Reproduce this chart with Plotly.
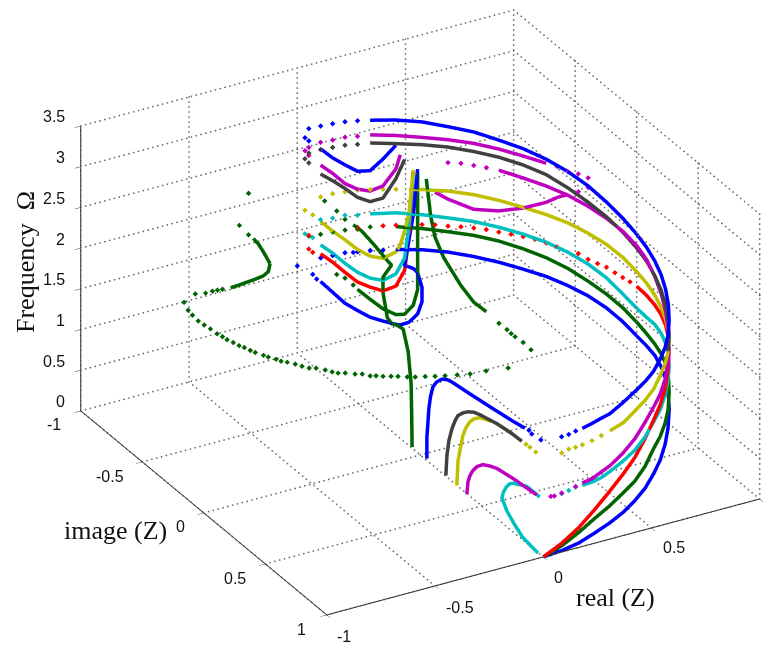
import plotly.graph_objects as go

# ---------- axes ----------
real_ticks = [-1, -0.5, 0, 0.5, 1]
image_ticks = [-1, -0.5, 0, 0.5, 1]
freq_ticks = [0, 0.5, 1, 1.5, 2, 2.5, 3, 3.5]
real_labels = ["-1", "-0.5", "0", "0.5"]
image_labels = ["-1", "-0.5", "0", "0.5", "1"]
freq_labels = ["0", "0.5", "1", "1.5", "2", "2.5", "3", "3.5"]

# ---------- points on the unit circle of Z, indexed by a phase in degrees ----------
CIRCLE = {
    0: (0.0, 1.0), 2: (.0349, .9994), 3: (.0523, .9986), 5: (.0872, .9962), 7: (.1219, .9925), 9: (.1564, .9877),
    10: (.1736, .9848), 11: (.1908, .9816), 14: (.2419, .9703), 15: (.2588, .9659), 17: (.2924, .9563), 20: (.3420, .9397),
    25: (.4226, .9063), 30: (.5, .8660), 35: (.5736, .8192), 40: (.6428, .7660), 45: (.7071, .7071), 50: (.7660, .6428), 55: (.8192, .5736),
    60: (.8660, .5), 65: (.9063, .4226), 70: (.9397, .3420), 75: (.9659, .2588), 80: (.9848, .1736),
    85: (.9962, .0872), 90: (1.0, 0.0), 93: (.9986, -.0523), 96: (.9945, -.1045), 99: (.9877, -.1564),
    102: (.9781, -.2079), 105: (.9659, -.2588), 108: (.9511, -.3090), 111: (.9336, -.3584), 114: (.9135, -.4067),
    117: (.8910, -.4540), 120: (.8660, -.5), 123: (.8387, -.5446), 124: (.8290, -.5592), 126: (.8090, -.5878),
    128: (.7880, -.6157), 129: (.7771, -.6293), 130: (.7660, -.6428), 132: (.7431, -.6691), 135: (.7071, -.7071),
    138: (.6691, -.7431), 141: (.6293, -.7771), 144: (.5878, -.8090), 145: (.5736, -.8192), 147: (.5446, -.8387),
    148: (.5299, -.8480), 149: (.5150, -.8572), 150: (.5, -.8660), 151: (.4848, -.8746), 152: (.4695, -.8829),
    153: (.4540, -.8910), 154: (.4384, -.8988), 155: (.4226, -.9063), 156: (.4067, -.9135), 157: (.3907, -.9205),
    158: (.3746, -.9272), 159: (.3584, -.9336), 161: (.3256, -.9455), 162: (.3090, -.9511), 164: (.2756, -.9613),
    165: (.2588, -.9659), 166: (.2419, -.9703), 168: (.2079, -.9781), 170: (.1736, -.9848), 171: (.1564, -.9877),
    173: (.1219, -.9925), 174: (.1045, -.9945), 175: (.0872, -.9962), 176: (.0698, -.9976), 177: (.0523, -.9986),
    178: (.0349, -.9994), 180: (0.0, -1.0),
}

BLUE = "#0000ff"; GREEN = "#006400"; RED = "#ff0000"; CYAN = "#00bfbf"
MAGENTA = "#bf00bf"; YELLOW = "#bfbf00"; BLACK = "#404040"

ARC = [0, 5, 10, 15, 20, 25, 30, 35, 40, 45, 50, 55, 60, 65, 70, 75, 80, 85, 90, 96, 102, 108, 114, 120, 126, 132, 138, 144, 150, 156]
UP = [65, 70, 75, 80, 85, 90, 96, 102, 108, 114, 120, 126, 132, 138, 144, 150, 156, 162]

# ---------- dense curves: (phase, frequency) ----------
blue1_deg = ARC
blue1_f = [0, .01, .03, .07, .10, .13, .17, .21, .27, .32, .39, .47, .57, .64, .69, .72, .74, .74, .75, .80, .85, .89, .92, .95, .97, 1.00, 1.03, 1.06, 1.08, 1.09]
blue1_dot_deg = [159, 162, 165, 166, 168, 171, 174]
blue1_dot_f = [1.09, 1.10, 1.10, 1.10, 1.11, 1.10, 1.10]

blue2_deg = [11, 14, 17, 20, 25, 30, 35, 40, 45, 50, 55, 60] + UP
blue2_f = [1.42, 1.43, 1.44, 1.44, 1.48, 1.51, 1.52, 1.53, 1.56, 1.58, 1.61, 1.66, 1.73, 1.79, 1.85, 1.90, 1.95, 2.00, 2.07, 2.15, 2.24, 2.32, 2.39, 2.45, 2.50, 2.56, 2.60, 2.65, 2.68, 2.70]
blue2_dot_deg = [5, 7, 9, 165, 168, 171, 174, 177]
blue2_dot_f = [1.41, 1.41, 1.42, 2.71, 2.72, 2.72, 2.72, 2.72]

green1_deg = ARC
green1_f = [0, .07, .16, .25, .31, .37, .41, .48, .58, .61, .65, .69, .78, .85, .88, .88, .88, .89, .92, .97, 1.02, 1.07, 1.13, 1.18, 1.22, 1.26, 1.29, 1.31, 1.34, 1.37]
green1_dot_deg = [162, 165, 168, 171, 174, 177]
green1_dot_f = [1.39, 1.38, 1.39, 1.39, 1.39, 1.40]

red_deg = ARC[:19]
red_f = [0, .10, .22, .36, .49, .60, .70, .82, .93, 1.0, 1.07, 1.18, 1.28, 1.33, 1.35, 1.36, 1.36, 1.36, 1.36]
red_dot_deg = [93, 96, 99, 102, 105, 108, 111, 117, 120, 123, 126, 129, 132, 135, 138, 141, 144, 147, 150, 156, 159, 165]
red_dot_f = [1.35, 1.34, 1.34, 1.35, 1.34, 1.34, 1.36, 1.35, 1.36, 1.37, 1.37, 1.37, 1.37, 1.38, 1.38, 1.38, 1.38, 1.39, 1.39, 1.39, 1.39, 1.40]

cyan_deg = [11, 14, 17, 20, 25, 30, 35, 40, 45, 50, 55, 60] + UP
cyan_f = [.72, .71, .71, .73, .76, .79, .84, .91, .94, 1.0, 1.06, 1.11, 1.12, 1.13, 1.13, 1.12, 1.09, 1.09, 1.14, 1.22, 1.28, 1.33, 1.37, 1.40, 1.43, 1.46, 1.48, 1.51, 1.54, 1.55]
cyan_dot_deg = [5, 7, 9, 165, 168, 171, 174]
cyan_dot_f = [.71, .72, .73, 1.55, 1.57, 1.56, 1.57]

yellow_deg = [20, 25, 30, 35, 40, 45, 50, 55, 60, 65, 70, 75, 80, 85, 90, 96, 102, 108, 114, 120, 126, 132, 138, 144, 147, 150, 153]
yellow_f = [1.23, 1.23, 1.27, 1.29, 1.31, 1.36, 1.38, 1.40, 1.40, 1.40, 1.42, 1.45, 1.48, 1.51, 1.54, 1.59, 1.63, 1.66, 1.69, 1.71, 1.73, 1.76, 1.79, 1.81, 1.81, 1.82, 1.82]
yellow_dot_deg = [5, 7, 9, 11, 14, 17, 156, 159, 162, 165, 168, 171, 174]
yellow_dot_f = [1.21, 1.23, 1.22, 1.22, 1.22, 1.23, 1.83, 1.84, 1.85, 1.86, 1.86, 1.86, 1.85]

black_deg = [55, 60] + UP
black_f = [1.41, 1.46, 1.52, 1.59, 1.66, 1.72, 1.78, 1.83, 1.90, 1.97, 2.04, 2.12, 2.20, 2.25, 2.29, 2.32, 2.35, 2.37, 2.39, 2.42]
black_dot_deg = [165, 168, 171, 174, 177]
black_dot_f = [2.42, 2.43, 2.43, 2.43, 2.42]

mag2_deg = [11, 14, 17, 20, 25, 30, 35, 40, 45, 50, 55, 60, 65, 70, 75, 80, 85, 90, 96, 102, 108, 114, 120, 126, 132]
mag2_f = [.75, .75, .78, .80, .86, .93, 1.02, 1.09, 1.13, 1.19, 1.25, 1.32, 1.42, 1.52, 1.62, 1.71, 1.80, 1.86, 1.91, 1.95, 1.99, 2.03, 2.06, 2.09, 2.13]
mag2_dot_deg = [2, 3, 5, 7, 9, 135, 138, 141, 144]
mag2_dot_f = [.72, .71, .72, .72, .74, 2.14, 2.15, 2.16, 2.16]

mag3_deg = [114, 117, 120, 126, 132, 138, 144, 147]
mag3_f = [2.04, 1.96, 1.86, 1.72, 1.63, 1.61, 1.71, 1.79]
mag3_dot_deg = [108, 111]
mag3_dot_f = [2.22, 2.12]

mag4_deg = [120, 126, 132, 138, 144, 150, 156, 162]
mag4_f = [2.34, 2.36, 2.39, 2.42, 2.44, 2.46, 2.49, 2.52]
mag4_dot_deg = [108, 111, 114, 117, 165, 168, 171, 174, 177]
mag4_dot_f = [2.34, 2.34, 2.32, 2.34, 2.52, 2.53, 2.52, 2.52, 2.49]

# U-shaped branches near the left end of the arcs
magU_deg = [155, 156, 159, 162, 165, 168, 171, 174]
magU_f = [2.25, 2.08, 1.88, 1.83, 1.87, 1.96, 2.11, 2.24]
magU_dot_deg = [177, 178]
magU_dot_f = [2.39, 2.46]
blueU_deg = [156, 159, 162, 165, 168, 171, 174]
blueU_f = [2.37, 2.21, 2.08, 2.09, 2.19, 2.30, 2.44]
blueU_dot_deg = [177, 178]
blueU_dot_f = [2.57, 2.62]
blackU_deg = [154, 156, 159, 162, 165, 168, 171, 174]
blackU_f = [2.19, 1.96, 1.73, 1.70, 1.77, 1.90, 2.02, 2.13]
blackU_dot_deg = [177, 178]
blackU_dot_f = [2.30, 2.36]
yellowU_deg = [152, 153, 154, 155, 156, 159, 162, 165, 168, 171, 174]
yellowU_f = [2.06, 1.52, 1.32, 1.14, 1.06, .99, 1.03, 1.13, 1.27, 1.40, 1.55]
yellowU_dot_deg = [176, 178]
yellowU_dot_f = [1.65, 1.73]
cyanU_deg = [152, 153, 154, 156, 159, 162, 165, 168, 171, 174]
cyanU_f = [2.01, 1.36, .98, .79, .72, .76, .85, .98, 1.13, 1.26]
cyanU_dot_deg = [176, 178]
cyanU_dot_f = [1.37, 1.44]
redU_deg = [152, 153, 154, 156, 159, 162, 165, 168, 171, 174]
redU_f = [2.03, 1.22, .83, .64, .59, .65, .73, .87, 1.02, 1.15]
redU_dot_deg = [176, 177, 177]
redU_dot_f = [1.19, 1.24, 1.41]
bigblueU_deg = [151, 152, 154, 152, 151, 150, 150, 151, 153, 155, 156, 159, 162, 165, 168, 171, 174]
bigblueU_f = [2.07, 1.51, .89, .85, .80, .62, .44, .29, .19, .16, .17, .22, .28, .38, .49, .65, .81]
bigblueU_dot_deg = [175, 176, 180]
bigblueU_dot_f = [.85, .92, 1.07]
greenU_deg = [151, 151, 151, 152, 154, 156, 159, 162, 165]
greenU_f = [2.03, .87, .59, .40, .29, .29, .37, .50, .64]
greenU_dot_deg = [166, 168, 170]
greenU_dot_f = [.70, .80, .86]
green3_deg = [149, 148, 147, 145, 141, 138, 135]
green3_f = [1.95, 1.50, 1.24, .99, .66, .47, .37]
green3_dot_deg = [132, 130, 129, 128, 126, 124]
green3_dot_f = [.25, .19, .15, .12, .07, 0.0]

# ---------- curves inside the unit circle: (real, image, frequency) ----------
green2_re = [-.012, .119, .249, .358, .419, .404, .3907, .3746, .3584, .3584, .3907, .3746, .3256, .2756, .2419]
green2_im = [-.045, -.279, -.512, -.728, -.876, -.899, -.9205, -.9272, -.9336, -.9336, -.9205, -.9272, -.9455, -.9613, -.9703]
green2_f = [.05, .05, .05, .10, .15, .18, .18, .26, .57, .76, .90, .96, 1.16, 1.35, 1.44]
green2_dot_deg = [168, 170, 173]
green2_dot_f = [1.52, 1.64, 1.79]

hook_blue_re = [-.486, -.399, -.268, -.213, -.163, -.130, -.099, -.083, -.076, -.063, -.045, -.028, -.015]
hook_blue_im = [.909, .756, .542, .458, .390, .361, .350, .363, .392, .515, .669, .803, .878]
hook_blue_f = [1.44] * 13
hook_blue_dot_re = [-.010, -.016, -.009]
hook_blue_dot_im = [.901, .935, .996]
hook_blue_dot_f = [1.44, 1.44, 1.44]

hook_black_re = [-.426, -.335, -.266, -.206, -.162, -.132, -.102, -.080, -.061, -.051, -.029, -.018, -.016]
hook_black_im = [.958, .807, .702, .621, .569, .538, .527, .529, .545, .574, .674, .786, .854]
hook_black_f = [1.25] * 13

hook_yellow_re = [-.378, -.288, -.238, -.187, -.143, -.104, -.076, -.053, -.024, -.009, -.006]
hook_yellow_im = [.963, .814, .747, .676, .624, .588, .575, .578, .633, .729, .837]
hook_yellow_f = [1.10, 1.15, 1.20, 1.22, 1.22, 1.22, 1.22, 1.22, 1.22, 1.22, 1.22]
hook_yellow_dot_re = [-.004, -.003, -.003]
hook_yellow_dot_im = [.866, .896, .944]
hook_yellow_dot_f = [1.22, 1.22, 1.22]

hook_mag_re = [-.249, -.191, -.159, -.129, -.098, -.069, -.050, -.036, -.022, -.014, -.008]
hook_mag_im = [.817, .725, .685, .655, .633, .630, .655, .687, .792, .892, .962]
hook_mag_f = [.72] * 11

hook_cyan_re = [-.009, -.058, -.078, -.088, -.102, -.086, -.063, -.045, -.036, 0.0, -.003]
hook_cyan_im = [.972, .938, .907, .860, .844, .827, .815, .808, .816, .866, .977]
hook_cyan_f = [.02, .20, .33, .45, .60, .64, .68, .69, .70, .70, .71]

# far-left dark green branch
left_re = [-.1305, -.1392, -.165, -.2164, -.2588, -.3007, -.342]
left_im = [-.9914, -.9903, -.9863, -.9763, -.9659, -.9537, -.9397]
left_f = [1.20, 1.11, 1.08, 1.08, 1.09, 1.10, 1.12]
left_top_re = [-.2164, -.1908, -.165, -.1305]
left_top_im = [-.9763, -.9816, -.9863, -.9914]
left_top_f = [1.59, 1.50, 1.38, 1.20]
left_dot_re = [-.2419, -.2924, -.2419, -.3907, -.4226, -.454, -.5, -.5736, -.6691]
left_dot_im = [-.9703, -.9563, -.9703, -.9205, -.9063, -.891, -.866, -.8192, -.7431]
left_dot_f = [2.17, 1.83, 1.66, 1.16, 1.19, 1.22, 1.26, 1.36, 1.42]

# long dotted dark green arc
arc_re = [-.544, -.550, -.554, -.550, -.545, -.542, -.536, -.532, -.523, -.515, -.505, -.496, -.488, -.471, -.462, -.444, -.434, -.417, -.397, -.382, -.365, -.341, -.317, -.301, -.285, -.260, -.230, -.205, -.185, -.164, -.142, -.114, -.090, -.060, -.032, .005, .040, .077, .123, .172, .241, .330]
arc_im = [-.930, -.885, -.830, -.789, -.747, -.698, -.666, -.635, -.601, -.567, -.542, -.509, -.484, -.446, -.423, -.392, -.368, -.348, -.318, -.289, -.261, -.247, -.215, -.187, -.167, -.153, -.126, -.112, -.082, -.071, -.053, -.037, -.023, -.001, .015, .031, .050, .066, .083, .102, .111, .133]
arc_f = [1.0] * 42

fig = go.Figure()

# dotted grid on the floor and on the two back walls, drawn as rows of tiny marks
gx, gy, gz = [], [], []


def grid_line(x0, y0, z0, x1, y1, z1, n):
    for k in range(n + 1):
        t = k / n
        gx.append(x0 + (x1 - x0) * t)
        gy.append(y0 + (y1 - y0) * t)
        gz.append(z0 + (z1 - z0) * t)


for r in real_ticks:
    grid_line(r, -1, 0, r, 1, 0, 65)
    grid_line(r, -1, 0, r, -1, 3.5, 57)
for m in image_ticks:
    grid_line(-1, m, 0, 1, m, 0, 90)
    grid_line(1, m, 0, 1, m, 3.5, 57)
for f in freq_ticks:
    grid_line(-1, -1, f, 1, -1, f, 90)
    grid_line(1, -1, f, 1, 1, f, 65)
fig.add_trace(go.Scatter3d(x=gx, y=gy, z=gz, mode="markers", showlegend=False, hoverinfo="skip",
                           marker=dict(color="#666666", size=1, symbol="circle", line=dict(width=0))))


def line_xyz(re, im, f, color, width=7):
    fig.add_trace(go.Scatter3d(x=re, y=im, z=f, mode="lines", showlegend=False,
                               line=dict(color=color, width=width)))


def dots_xyz(re, im, f, color):
    fig.add_trace(go.Scatter3d(x=re, y=im, z=f, mode="markers", showlegend=False,
                               marker=dict(color=color, size=1.8, symbol="diamond", line=dict(width=0))))


def line_deg(deg, f, color, width=7):
    line_xyz([CIRCLE[d][0] for d in deg], [CIRCLE[d][1] for d in deg], f, color, width)


def dots_deg(deg, f, color):
    dots_xyz([CIRCLE[d][0] for d in deg], [CIRCLE[d][1] for d in deg], f, color)


for deg, f, dd, df, col in [
    (mag4_deg, mag4_f, mag4_dot_deg, mag4_dot_f, MAGENTA),
    (mag3_deg, mag3_f, mag3_dot_deg, mag3_dot_f, MAGENTA),
    (mag2_deg, mag2_f, mag2_dot_deg, mag2_dot_f, MAGENTA),
    (magU_deg, magU_f, magU_dot_deg, magU_dot_f, MAGENTA),
    (black_deg, black_f, black_dot_deg, black_dot_f, BLACK),
    (blackU_deg, blackU_f, blackU_dot_deg, blackU_dot_f, BLACK),
    (yellow_deg, yellow_f, yellow_dot_deg, yellow_dot_f, YELLOW),
    (yellowU_deg, yellowU_f, yellowU_dot_deg, yellowU_dot_f, YELLOW),
    (cyan_deg, cyan_f, cyan_dot_deg, cyan_dot_f, CYAN),
    (cyanU_deg, cyanU_f, cyanU_dot_deg, cyanU_dot_f, CYAN),
    (red_deg, red_f, red_dot_deg, red_dot_f, RED),
    (redU_deg, redU_f, redU_dot_deg, redU_dot_f, RED),
    (green1_deg, green1_f, green1_dot_deg, green1_dot_f, GREEN),
    (greenU_deg, greenU_f, greenU_dot_deg, greenU_dot_f, GREEN),
    (green3_deg, green3_f, green3_dot_deg, green3_dot_f, GREEN),
    (blue1_deg, blue1_f, blue1_dot_deg, blue1_dot_f, BLUE),
    (blue2_deg, blue2_f, blue2_dot_deg, blue2_dot_f, BLUE),
    (blueU_deg, blueU_f, blueU_dot_deg, blueU_dot_f, BLUE),
    (bigblueU_deg, bigblueU_f, bigblueU_dot_deg, bigblueU_dot_f, BLUE),
]:
    line_deg(deg, f, col)
    dots_deg(dd, df, col)

line_xyz(green2_re, green2_im, green2_f, GREEN)
dots_deg(green2_dot_deg, green2_dot_f, GREEN)
line_xyz(hook_blue_re, hook_blue_im, hook_blue_f, BLUE)
dots_xyz(hook_blue_dot_re, hook_blue_dot_im, hook_blue_dot_f, BLUE)
line_xyz(hook_black_re, hook_black_im, hook_black_f, BLACK)
line_xyz(hook_yellow_re, hook_yellow_im, hook_yellow_f, YELLOW)
dots_xyz(hook_yellow_dot_re, hook_yellow_dot_im, hook_yellow_dot_f, YELLOW)
line_xyz(hook_mag_re, hook_mag_im, hook_mag_f, MAGENTA)
line_xyz(hook_cyan_re, hook_cyan_im, hook_cyan_f, CYAN)
line_xyz(left_re, left_im, left_f, GREEN)
line_xyz(left_top_re, left_top_im, left_top_f, GREEN)
dots_xyz(left_dot_re, left_dot_im, left_dot_f, GREEN)
dots_xyz(arc_re, arc_im, arc_f, GREEN)

axis = dict(showbackground=False, showgrid=False, zeroline=False, showspikes=False, showline=True,
            linecolor="#222222", linewidth=2, ticks="outside", ticklen=7, tickwidth=1, tickcolor="#444444",
            showticklabels=True, tickfont=dict(size=1, color="rgba(0,0,0,0)"), title=dict(text=""))


def side_label(text, x, y, angle=0):
    return dict(text=text, x=x / 771, y=(650 - y) / 650, xref="paper", yref="paper", showarrow=False,
                textangle=angle, xanchor="center", yanchor="middle",
                font=dict(family="Liberation Serif", size=26, color="#111111"))


TICK_FONT = dict(family="Liberation Sans", size=16, color="#111111")


def tick_label(text, x, y, z, xshift, yshift, xanchor):
    return dict(text=text, x=x, y=y, z=z, xshift=xshift, yshift=yshift, xanchor=xanchor, yanchor="middle",
                showarrow=False, font=TICK_FONT)


scene_labels = []
for value, text in zip(freq_ticks, freq_labels):
    scene_labels.append(tick_label(text, -1, -1, value, -13.5, 9, "right"))
for value, text, xs, ys in zip(image_ticks, image_labels, [-17.5, -16, -17, -17, -19], [-14, -15, -14, -15, -15]):
    scene_labels.append(tick_label(text, -1, value, 0, xs, ys, "right"))
for value, text, xs, ys in zip(real_ticks, real_labels, [17, 25, 15.5, 23], [-22, -21.5, -21, -20]):
    scene_labels.append(tick_label(text, value, 1, 0, xs, ys, "center"))

fig.update_layout(
    width=771, height=650, margin=dict(l=0, r=0, t=0, b=0), paper_bgcolor="white", showlegend=False,
    scene=dict(
        domain=dict(x=[0, 1], y=[0, 1]),
        aspectmode="manual", aspectratio=dict(x=1.532, y=1.532, z=0.994),
        xaxis=dict(axis, range=[-1, 1], tickvals=real_ticks),
        yaxis=dict(axis, range=[1, -1], tickvals=image_ticks),
        zaxis=dict(axis, range=[0, 3.5], tickvals=freq_ticks),
        camera=dict(eye=dict(x=-0.886, y=-1.343, z=0.814), up=dict(x=0, y=0, z=1),
                    center=dict(x=-0.1019, y=0.037, z=-0.034), projection=dict(type="orthographic")),
        annotations=scene_labels,
    ),
    annotations=[
        side_label("Frequency  Ω", 25, 262, angle=-90),
        side_label("image (Z)", 115, 530),
        side_label("real (Z)", 615, 597),
    ],
)

fig.write_html("out.html", post_script="document.body.style.margin='0';", config={"displayModeBar": False})
